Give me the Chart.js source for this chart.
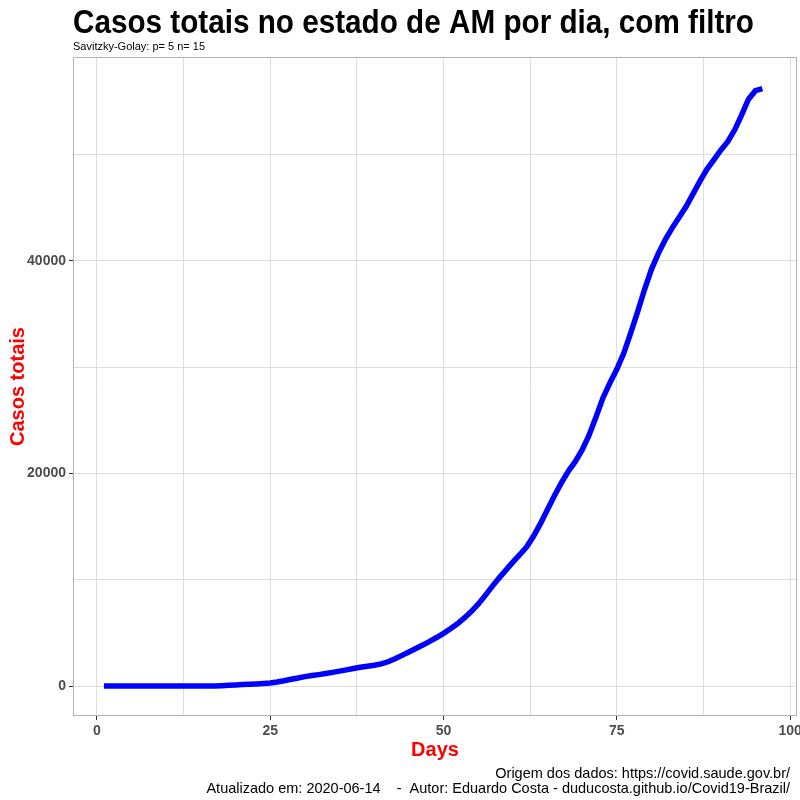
<!DOCTYPE html>
<html>
<head>
<meta charset="utf-8">
<script src="https://cdn.jsdelivr.net/npm/chart.js@4/dist/chart.umd.min.js"></script>
<style>
  html, body { margin: 0; padding: 0; background: #fff; }
  #wrap { width: 800px; height: 800px; }
</style>
</head>
<body>
<div id="wrap"><canvas id="chart" width="800" height="800"></canvas></div>
<script>
/* ── data ─────────────────────────────── */
const DAYS = [];
for (let d = 1; d <= 96; d++) DAYS.push(d);

const CASES = [
  0, 0, 0, 0, 0, 0, 0, 0, 0, 0,
  0, 0, 0, 0, 0, 5, 10, 30, 60, 100,
  130, 160, 190, 230, 280, 380, 500, 640, 760, 880,
  980, 1070, 1170, 1280, 1400, 1520, 1640, 1760, 1860, 1950,
  2080, 2280, 2560, 2880, 3200, 3520, 3850, 4200, 4560, 4950,
  5380, 5850, 6400, 7000, 7700, 8500, 9350, 10150, 10900, 11650,
  12350, 13100, 14100, 15300, 16600, 17900, 19100, 20200, 21100, 22200,
  23600, 25300, 27100, 28500, 29800, 31300, 33200, 35200, 37300, 39200,
  40700, 42000, 43100, 44100, 45100, 46300, 47500, 48600, 49500, 50400,
  51200, 52300, 53700, 55200, 56000, 56200
];

const X_TICKS = [0, 25, 50, 75, 100];
const X_MINOR = [12.5, 37.5, 62.5, 87.5];
const Y_TICKS = [0, 20000, 40000];
const Y_MINOR = [10000, 30000, 50000];

const TITLE    = 'Casos totais no estado de AM por dia, com filtro';
const SUBTITLE = 'Savitzky-Golay: p= 5 n= 15';
const X_TITLE  = 'Days';
const Y_TITLE  = 'Casos totais';
const CAPTION  = [
  'Origem dos dados: https://covid.saude.gov.br/',
  'Atualizado em: 2020-06-14    -  Autor: Eduardo Costa - duducosta.github.io/Covid19-Brazil/'
];

/* ── helpers ──────────────────────────── */
const FONT = '"Liberation Sans", Arial, sans-serif';

function buildTicks(major, minor) {
  return scale => {
    scale.ticks = major.concat(minor).sort((a, b) => a - b)
      .map(v => ({ value: v, major: major.includes(v) }));
  };
}

const isMajor = (ctx, major) => ctx.tick && major.includes(ctx.tick.value);

// draw text squeezed horizontally to a given width (title font is condensed)
function fitText(c, text, x, y, width) {
  const w = c.measureText(text).width;
  c.save();
  c.translate(x, y);
  c.scale(width / w, 1);
  c.fillText(text, 0, 0);
  c.restore();
}

/* ── text + panel border plugin ───────── */
const decor = {
  id: 'decor',
  afterDraw(chart) {
    const c = chart.ctx;
    const a = chart.chartArea;
    c.save();

    c.strokeStyle = '#b3b3b3';
    c.lineWidth = 1;
    c.strokeRect(a.left + 0.5, a.top + 0.5, a.right - a.left - 1, a.bottom - a.top - 1);

    c.fillStyle = '#000';
    c.textBaseline = 'alphabetic';
    c.textAlign = 'left';
    c.font = 'bold 34px ' + FONT;
    fitText(c, TITLE, 73, 33, 681);
    c.font = '11px ' + FONT;
    c.fillText(SUBTITLE, 73, 50);

    c.fillStyle = '#ff0000';
    c.font = 'bold 20px ' + FONT;
    c.textAlign = 'center';
    c.fillText(X_TITLE, (a.left + a.right) / 2, 756);

    c.save();
    c.translate(24, (a.top + a.bottom) / 2);
    c.rotate(-Math.PI / 2);
    c.fillText(Y_TITLE, 0, 0);
    c.restore();

    c.fillStyle = '#000';
    c.font = '14.5px ' + FONT;
    c.textAlign = 'right';
    c.fillText(CAPTION[0], 790, 778);
    c.fillText(CAPTION[1], 790, 793);

    c.restore();
  }
};

/* ── chart ────────────────────────────── */
new Chart(document.getElementById('chart'), {
  type: 'line',
  data: {
    labels: DAYS,
    datasets: [{
      data: DAYS.map((d, i) => ({ x: d, y: CASES[i] })),
      borderColor: '#0000ff',
      borderWidth: 5.5,
      pointRadius: 0,
      tension: 0,
      fill: false
    }]
  },
  options: {
    responsive: false,
    animation: false,
    layout: { padding: { left: 0, top: 57, right: 3, bottom: 0 } },
    plugins: {
      legend: { display: false },
      tooltip: { enabled: false },
      title: { display: false }
    },
    scales: {
      x: {
        type: 'linear',
        min: -3.46,
        max: 101,
        afterBuildTicks: buildTicks(X_TICKS, X_MINOR),
        afterFit: s => { s.height = 84; s.paddingLeft = 0; s.paddingRight = 0; },
        border: { display: false },
        grid: {
          color: '#dedede',
          lineWidth: 1,
          tickLength: 4,
          tickColor: ctx => isMajor(ctx, X_TICKS) ? '#333' : 'rgba(0,0,0,0)'
        },
        ticks: {
          padding: 3,
          maxRotation: 0,
          autoSkip: false,
          color: '#4d4d4d',
          font: { family: FONT, size: 14, weight: 'bold' },
          callback: v => X_TICKS.includes(v) ? String(v) : ''
        }
      },
      y: {
        type: 'linear',
        min: -2822,
        max: 59172,
        afterBuildTicks: buildTicks(Y_TICKS, Y_MINOR),
        afterFit: s => { s.width = 73; s.paddingTop = 0; s.paddingBottom = 0; },
        border: { display: false },
        grid: {
          color: '#dedede',
          lineWidth: 1,
          tickLength: 4,
          tickColor: ctx => isMajor(ctx, Y_TICKS) ? '#333' : 'rgba(0,0,0,0)'
        },
        ticks: {
          padding: 3,
          autoSkip: false,
          color: '#4d4d4d',
          font: { family: FONT, size: 14, weight: 'bold' },
          callback: v => Y_TICKS.includes(v) ? String(v) : ''
        }
      }
    }
  },
  plugins: [decor]
});
</script>
</body>
</html>
